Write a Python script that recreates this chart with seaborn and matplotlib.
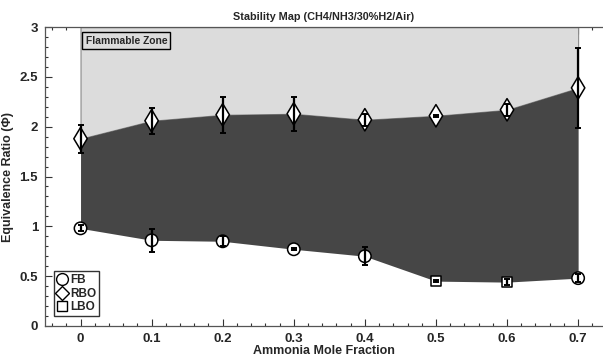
import numpy as np
import pandas as pd
import matplotlib
matplotlib.use("Agg")
import matplotlib.pyplot as plt
from matplotlib.lines import Line2D
from matplotlib.ticker import MultipleLocator
import seaborn as sns

# ---- data ----
ammonia = [0.0, 0.1, 0.2, 0.3, 0.4, 0.5, 0.6, 0.7]
rbo_phi = [1.88, 2.06, 2.12, 2.13, 2.07, 2.11, 2.17, 2.39]
rbo_err = [0.14, 0.13, 0.18, 0.17, 0.06, 0.01, 0.06, 0.40]
lower_type = ["FB", "FB", "FB", "FB", "FB", "LBO", "LBO", "FB"]
lower_phi = [0.98, 0.86, 0.85, 0.77, 0.70, 0.45, 0.44, 0.48]
lower_err = [0.03, 0.115, 0.05, 0.01, 0.09, 0.01, 0.03, 0.04]

title = "Stability Map (CH4/NH3/30%H2/Air)"
xlabel = "Ammonia Mole Fraction"
ylabel = "Equivalence Ratio (Φ)"
zone_label = "Flammable Zone"
legend_labels = ["FB", "RBO", "LBO"]

df = pd.DataFrame({
    "x": ammonia * 2,
    "phi": rbo_phi + lower_phi,
    "err": rbo_err + lower_err,
    "type": ["RBO"] * len(ammonia) + lower_type,
})

sns.set_style("ticks")
plt.rcParams["font.family"] = ["Liberation Sans", "DejaVu Sans"]
plt.rcParams["font.weight"] = "bold"

fig = plt.figure(figsize=(6.03, 3.57), dpi=100)
ax = fig.add_axes([0.0746, 0.087, 0.9254, 0.837])

# regions
ax.fill_between(ammonia, rbo_phi, 3.0, color="#dcdcdc", edgecolor="#8a8a8a", linewidth=0.8, zorder=1)
ax.fill_between(ammonia, lower_phi, rbo_phi, color="#464646", linewidth=0, zorder=2)

# markers
sns.scatterplot(data=df, x="x", y="phi", style="type",
                markers={"FB": "o", "RBO": "d", "LBO": "s"},
                size="type", sizes={"FB": 80, "RBO": 130, "LBO": 55},
                color="white", edgecolor="black", linewidth=1.1,
                legend=False, ax=ax, zorder=3)

# error bars on top
ax.errorbar(df["x"], df["phi"], yerr=df["err"], fmt="none", ecolor="black",
            elinewidth=1.6, capsize=2.0, capthick=1.4, zorder=4)

ax.set_xlim(-0.05, 0.735)
ax.set_ylim(0, 3)
ax.xaxis.set_minor_locator(MultipleLocator(0.02))
ax.yaxis.set_minor_locator(MultipleLocator(0.1))
ax.set_xticks(ammonia)
ax.set_xticklabels([f"{v:g}" for v in ammonia])
ax.set_yticks([0, 0.5, 1, 1.5, 2, 2.5, 3])
ax.set_yticklabels(["0", "0.5", "1", "1.5", "2", "2.5", "3"])
ax.tick_params(which="both", direction="in", top=True, right=False, labelsize=9.5, width=0.8, color="#333333")
ax.tick_params(which="major", length=5)
ax.tick_params(axis="x", which="major", pad=5)
ax.tick_params(axis="y", which="major", pad=5)
ax.tick_params(which="minor", length=2.5)
for lab in ax.get_xticklabels() + ax.get_yticklabels():
    lab.set_fontweight("bold")
for s in ["left", "bottom", "top"]:
    ax.spines[s].set_color("#555555")
    ax.spines[s].set_linewidth(0.9)
ax.spines["right"].set_visible(False)

ax.set_title(title, fontsize=7.8, fontweight="bold", pad=5)
ax.set_xlabel(xlabel, fontsize=9, fontweight="bold", labelpad=0)
ax.set_ylabel(ylabel, fontsize=9, fontweight="bold", labelpad=4)

ax.text(0.007, 2.865, zone_label, fontsize=7.4, fontweight="bold", va="center", ha="left",
        bbox=dict(boxstyle="square,pad=0.3", facecolor="#dcdcdc", edgecolor="black", linewidth=1.0),
        zorder=5)

handles = [
    Line2D([], [], marker="o", linestyle="none", markerfacecolor="white", markeredgecolor="black", markersize=8.5, markeredgewidth=1.0),
    Line2D([], [], marker="D", linestyle="none", markerfacecolor="white", markeredgecolor="black", markersize=7, markeredgewidth=1.0),
    Line2D([], [], marker="s", linestyle="none", markerfacecolor="white", markeredgecolor="black", markersize=7, markeredgewidth=1.0),
]
leg = ax.legend(handles, legend_labels, loc="lower left", bbox_to_anchor=(0.016, 0.032),
                prop={"weight": "bold", "size": 8.5}, frameon=True, fancybox=False,
                handlelength=0.8, handletextpad=0.3, borderpad=0.25, labelspacing=0.15,
                borderaxespad=0.0)
leg.get_frame().set_edgecolor("black")
leg.get_frame().set_linewidth(1.0)

fig.savefig("out.png", dpi=100)
